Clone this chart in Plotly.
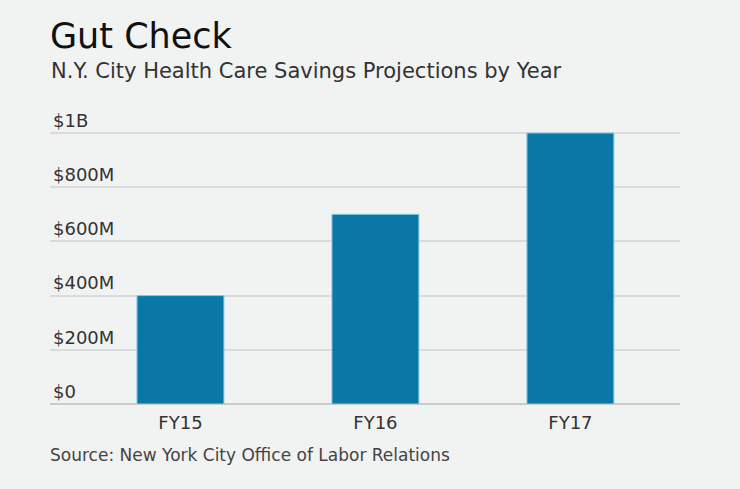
import plotly.graph_objects as go

categories = ["FY15", "FY16", "FY17"]
savings = [400e6, 700e6, 1000e6]
tick_vals = [0, 200e6, 400e6, 600e6, 800e6, 1000e6]
tick_text = ["$0", "$200M", "$400M", "$600M", "$800M", "$1B"]

BG = "#f1f2f2"
FONT = "DejaVu Sans"

W, H = 740, 489
ML, MR, MT, MB = 50, 60, 128, 85
plot_w = W - ML - MR
plot_h = H - MT - MB
y_top = 1e9 * (404 - MT) / (404 - 133)


def px_x(x):
    return (x - ML) / plot_w


def px_y(y):
    return (H - MB - y) / plot_h


fig = go.Figure()
fig.add_trace(go.Bar(
    x=categories, y=savings, width=0.446,
    marker=dict(color="#0a78a6", line=dict(color="#8ccbe4", width=1)),
))

fig.update_layout(
    width=W, height=H,
    paper_bgcolor=BG, plot_bgcolor=BG,
    margin=dict(l=ML, r=MR, t=MT, b=MB),
    showlegend=False,
    font=dict(family=FONT, color="#333333"),
    xaxis=dict(
        range=[-0.669, 2.562], showgrid=False, showline=False,
        ticks="", tickfont=dict(size=18, color="#333333"), zeroline=False,
        ticklabelstandoff=6,
    ),
    yaxis=dict(
        range=[0, y_top], tickvals=tick_vals, ticktext=tick_text,
        ticklabelposition="inside top", ticklabeloverflow="allow",
        tickfont=dict(size=18, color="#333333"),
        showgrid=True, gridcolor="#d9dcdc", gridwidth=1.5,
        zeroline=True, zerolinecolor="#c9cccc", zerolinewidth=1.5,
        ticks="", showline=False,
    ),
    annotations=[
        dict(text="Gut Check", x=px_x(48), y=px_y(58), xref="paper", yref="paper",
             showarrow=False, xanchor="left", yanchor="bottom",
             font=dict(size=35, color="#111111", family=FONT)),
        dict(text="N.Y. City Health Care Savings Projections by Year",
             x=px_x(49), y=px_y(85), xref="paper", yref="paper",
             showarrow=False, xanchor="left", yanchor="bottom",
             font=dict(size=21, color="#333333", family=FONT)),
        dict(text="Source: New York City Office of Labor Relations",
             x=px_x(48), y=px_y(467), xref="paper", yref="paper",
             showarrow=False, xanchor="left", yanchor="bottom",
             font=dict(size=17, color="#444444", family=FONT)),
    ],
)

fig.write_html(
    "out.html",
    config={"displayModeBar": False},
    post_script="document.body.style.margin='0';document.body.style.overflow='hidden';",
)
